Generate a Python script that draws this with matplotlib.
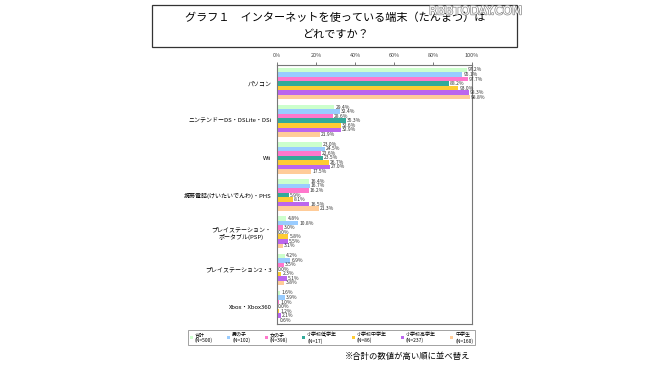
import matplotlib
matplotlib.use('Agg')
import matplotlib.pyplot as plt
import matplotlib.patheffects as pe
from matplotlib.patches import Rectangle, Patch
import numpy as np

plt.rcParams['font.family'] = ['Noto Sans CJK JP', 'DejaVu Sans']

# 端末カテゴリ
categories = ['パソコン', 'ニンテンドーDS・DSLite・DSi', 'Wii',
              '携帯電話(けいたいでんわ)・PHS',
              'プレイステーション・\nポータブル(PSP)',
              'プレイステーション2・3', 'Xbox・Xbox360']

# 属性ごとの値（%）
series_names = ['合計', '男の子', '女の子', '小学校低学年', '小学校中学年', '小学校高学年', '中学生']
series_n = ['(N=500)', '(N=102)', '(N=398)', '(N=17)', '(N=86)', '(N=237)', '(N=160)']
goukei = [97.2, 29.4, 23.0, 16.4, 4.8, 4.2, 1.6]
otoko = [95.1, 32.4, 24.5, 16.7, 10.8, 6.9, 3.9]
onna = [97.7, 28.6, 22.6, 16.2, 3.0, 3.5, 1.0]
tei = [88.2, 35.3, 23.5, 5.9, 0.0, 0.0, 0.0]
chu = [93.0, 32.6, 26.7, 8.1, 5.8, 2.3, 1.2]
kou = [98.3, 32.9, 27.0, 16.5, 5.5, 5.1, 2.1]
chugaku = [98.8, 21.9, 17.5, 21.3, 3.1, 3.8, 0.6]
series_vals = [goukei, otoko, onna, tei, chu, kou, chugaku]

colors = ['#ccffcc', '#99ccff', '#ff77cc', '#33aa99', '#ffcc33', '#bb66ee', '#ffcc99']

fig = plt.figure(figsize=(6.7, 3.77), dpi=100)
ax = fig.add_axes([277 / 670, 1 - 324 / 377, 195 / 670, 259 / 377])

h = 0.122
y = np.arange(len(categories))
for j, (vals, c) in enumerate(zip(series_vals, colors)):
    pos = y + (j - 3) * h
    ax.barh(pos, vals, height=h, color=c, edgecolor='none')
    for p, v in zip(pos, vals):
        ax.text(v + 0.6, p, f'{v:.1f}%', va='center', ha='left', fontsize=3.6,
                color='#333333')

ax.set_xlim(0, 100)
ax.set_ylim(6.47, -0.5)
ax.set_yticks(y)
ax.set_yticklabels(categories, fontsize=4.3, multialignment='center')
ax.tick_params(axis='y', length=0, pad=4)
ax.xaxis.tick_top()
ax.set_xticks(range(0, 101, 20))
ax.set_xticklabels([f'{t}%' for t in range(0, 101, 20)], fontsize=4)
ax.tick_params(axis='x', length=2, width=0.5, pad=3, colors='#444444')
for s in ax.spines.values():
    s.set_linewidth(0.8)
    s.set_color('#777777')

# タイトル枠
fig.patches.append(Rectangle((152 / 670, 1 - 47 / 377), 365 / 670, 42 / 377,
                             transform=fig.transFigure, fill=False,
                             edgecolor='#333333', linewidth=0.9))
fig.text(0.5, 1 - 18 / 377, 'グラフ１　インターネットを使っている端末（たんまつ）は',
         ha='center', va='center', fontsize=8)
fig.text(0.5, 1 - 35 / 377, 'どれですか？', ha='center', va='center', fontsize=8)

fig.text(522 / 670, 1 - 11 / 377, 'RBBTODAY.COM', ha='right', va='center',
         fontsize=8.5, color='white', family='DejaVu Sans',
         path_effects=[pe.withStroke(linewidth=1.0, foreground='#888888')])

# 凡例
handles = [Patch(facecolor=c, edgecolor='none') for c in colors]
labels = [f'{n}\n{k}' for n, k in zip(series_names, series_n)]
leg = fig.legend(handles, labels, loc='lower left', ncol=7, mode='expand',
                 bbox_to_anchor=(188 / 670, 1 - 345 / 377, 287 / 670, 13 / 377),
                 fontsize=3.6, handlelength=0.6, handleheight=0.6, handletextpad=0.4,
                 borderpad=0.3, frameon=True, fancybox=False, borderaxespad=0)
leg.get_frame().set_edgecolor('#777777')
leg.get_frame().set_linewidth(0.6)

fig.text(470 / 670, 1 - 357 / 377, '※合計の数値が高い順に並べ替え', ha='right',
         va='center', fontsize=6)

fig.savefig('out.png', dpi=100)
